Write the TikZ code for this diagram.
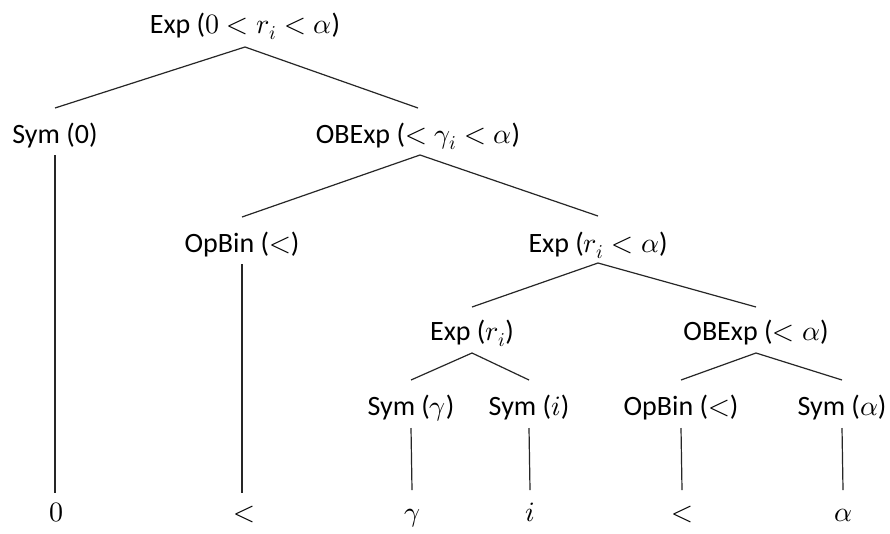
\documentclass[tikz,border=0pt]{standalone}
\usepackage{fontspec}
\usepackage{unicode-math}
\setmainfont{Carlito}
\setmathfont{Latin Modern Math}
\begin{document}
\begin{tikzpicture}[x=1pt,y=-1pt,
  lbl/.style={anchor=base,inner sep=0pt,font=\fontsize{28}{34}\selectfont},
  edge/.style={line width=1.2pt,black!85}]
\useasboundingbox[fill=white] (0,0) rectangle (890,533);
% level 0
\node[lbl] (root) at (245,33) {Exp ($0<r_i<\alpha$)};
% level 1
\node[lbl] (sym0) at (55,143) {Sym (0)};
\node[lbl] (obexpA) at (418,143) {OBExp ($<\gamma_i<\alpha$)};
% level 2
\node[lbl] (opbinA) at (242,252) {OpBin ($<$)};
\node[lbl] (expB) at (598,252) {Exp ($r_i<\alpha$)};
% level 3
\node[lbl] (expC) at (472,340) {Exp ($r_i$)};
\node[lbl] (obexpB) at (756,340) {OBExp ($<\alpha$)};
% level 4
\node[lbl] (symg) at (411,415) {Sym ($\gamma$)};
\node[lbl] (symi) at (529,415) {Sym ($i$)};
\node[lbl] (opbinB) at (681,415) {OpBin ($<$)};
\node[lbl] (syma) at (842,415) {Sym ($\alpha$)};
% leaves
\node[lbl] (leafzero) at (56,521) {$0$};
\node[lbl] (leaflt) at (244,521) {$<$};
\node[lbl] (leafg) at (412,521) {$\gamma$};
\node[lbl] (leafi) at (530,521) {$i$};
\node[lbl] (leafltb) at (682,521) {$<$};
\node[lbl] (leafa) at (843,521) {$\alpha$};
% connectors
\draw[edge] ([yshift=35pt]sym0.base) -- ([yshift=-14pt]root.base) -- ([yshift=35pt]obexpA.base);
\draw[edge] ([yshift=35pt]opbinA.base) -- ([xshift=2pt,yshift=-12pt]obexpA.base) -- ([yshift=36pt]expB.base);
\draw[edge] ([yshift=33pt]expC.base) -- ([yshift=-11pt]expB.base) -- ([yshift=33pt]obexpB.base);
\draw[edge] ([yshift=35pt]symg.base) -- ([yshift=-13pt]expC.base) -- ([yshift=35pt]symi.base);
\draw[edge] ([yshift=35pt]opbinB.base) -- ([yshift=-13pt]obexpB.base) -- ([yshift=35pt]syma.base);
\draw[edge] ([yshift=-12pt]sym0.base) -- ([yshift=28pt]leafzero.base -| sym0.base);
\draw[edge] ([yshift=-12pt]opbinA.base) -- ([yshift=28pt]leaflt.base -| opbinA.base);
\draw[edge] ([yshift=-13pt]symg.base) -- ([yshift=31pt]leafg.base);
\draw[edge] ([yshift=-13pt]symi.base) -- ([yshift=31pt]leafi.base);
\draw[edge] ([yshift=-13pt]opbinB.base) -- ([yshift=31pt]leafltb.base);
\draw[edge] ([yshift=-13pt]syma.base) -- ([yshift=31pt]leafa.base);
\end{tikzpicture}
\end{document}
